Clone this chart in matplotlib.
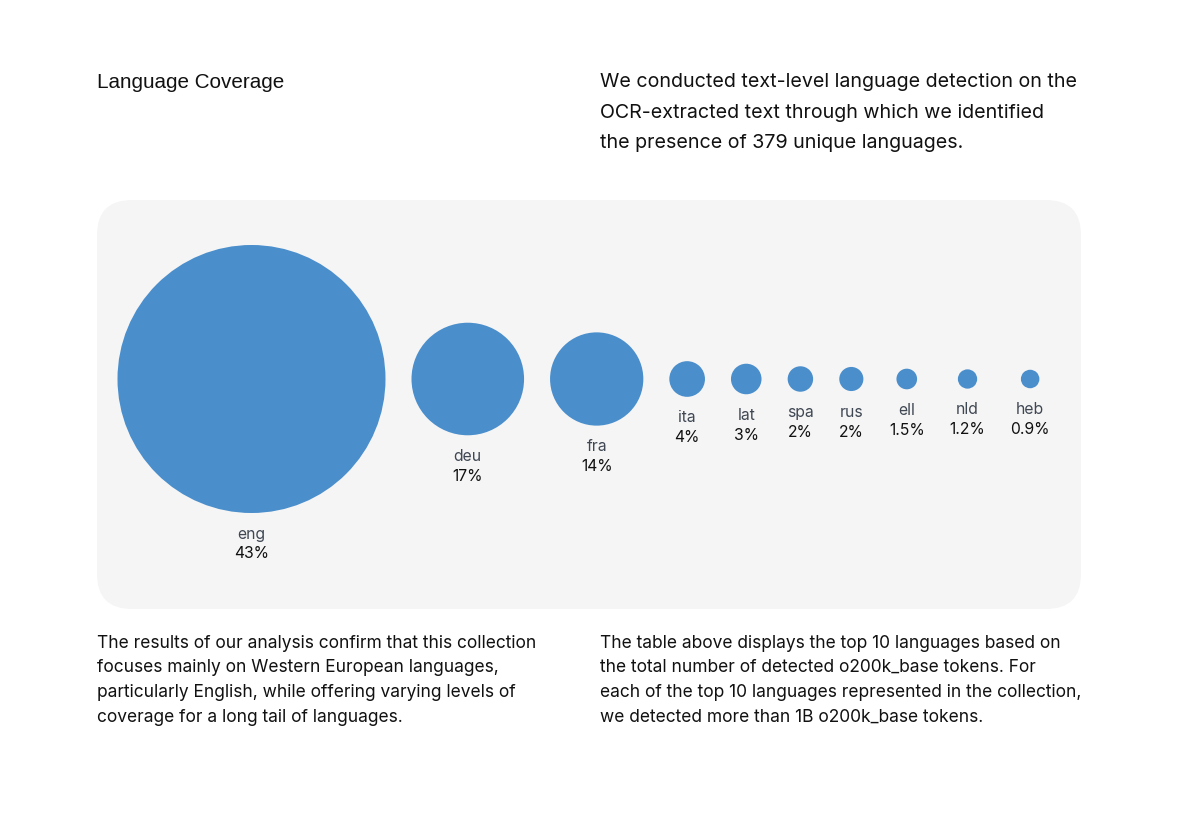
import matplotlib
matplotlib.use("Agg")
import matplotlib.pyplot as plt
from matplotlib.patches import Circle, FancyBboxPatch

# data
langs = ["eng", "deu", "fra", "ita", "lat", "spa", "rus", "ell", "nld", "heb"]
shares = ["43%", "17%", "14%", "4%", "3%", "2%", "2%", "1.5%", "1.2%", "0.9%"]
# relative bubble diameter (eng = 1)
bubble = [1.0, 0.42, 0.348, 0.133, 0.114, 0.095, 0.09, 0.077, 0.072, 0.069]

title = "Language Coverage"
intro = ["We conducted text-level language detection on the",
         "OCR-extracted text through which we identified",
         "the presence of 379 unique languages."]
note_left = ["The results of our analysis confirm that this collection",
             "focuses mainly on Western European languages,",
             "particularly English, while offering varying levels of",
             "coverage for a long tail of languages."]
note_right = ["The table above displays the top 10 languages based on",
              "the total number of detected o200k_base tokens. For",
              "each of the top 10 languages represented in the collection,",
              "we detected more than 1B o200k_base tokens."]

BLUE = "#4a8ecc"
PANEL = "#f5f5f5"
TXT = "Inter"

fig = plt.figure(figsize=(12, 8.15), dpi=100)
ax = fig.add_axes([0, 0, 1, 1])
ax.set_xlim(0, 1200)
ax.set_ylim(815, 0)
ax.set_aspect("equal")
ax.axis("off")

# header
ax.text(97, 82, title, fontsize=14.9, family="Liberation Sans", va="center", ha="left", color="#111111")
for i, line in enumerate(intro):
    ax.text(600, 82 + i * 30.5, line, fontsize=14.15, family=TXT, va="center", ha="left", color="#111111")

# grey panel
panel = FancyBboxPatch((97, 200), 984, 409, boxstyle="round,pad=0,rounding_size=35",
                       fc=PANEL, ec="none")
ax.add_patch(panel)

# bubbles, laid out left to right like a flex row
r_max = 134
cy = 379
gap = 26
renderer = fig.canvas.get_renderer()
x = 117.5
for name, pct, b in zip(langs, shares, bubble):
    r = b * r_max
    t1 = ax.text(0, 0, name, fontsize=11.3, family=TXT, ha="center", va="center", color="#3f4753")
    t2 = ax.text(0, 0, pct, fontsize=11.3, family=TXT, ha="center", va="center", color="#111111")
    w = max(t1.get_window_extent(renderer).width, t2.get_window_extent(renderer).width)
    item_w = max(2 * r, w - 1)
    cx = x + item_w / 2
    ax.add_patch(Circle((cx, cy), r, fc=BLUE, ec="none"))
    t1.set_position((cx, cy + r + 21))
    t2.set_position((cx, cy + r + 41))
    x += item_w + gap

# footer notes
for i, line in enumerate(note_left):
    ax.text(97, 643 + i * 24.7, line, fontsize=12.5, family=TXT, va="center", ha="left", color="#111111")
for i, line in enumerate(note_right):
    ax.text(600, 643 + i * 24.7, line, fontsize=12.5, family=TXT, va="center", ha="left", color="#111111")

fig.savefig("out.png", dpi=100, facecolor="white")
